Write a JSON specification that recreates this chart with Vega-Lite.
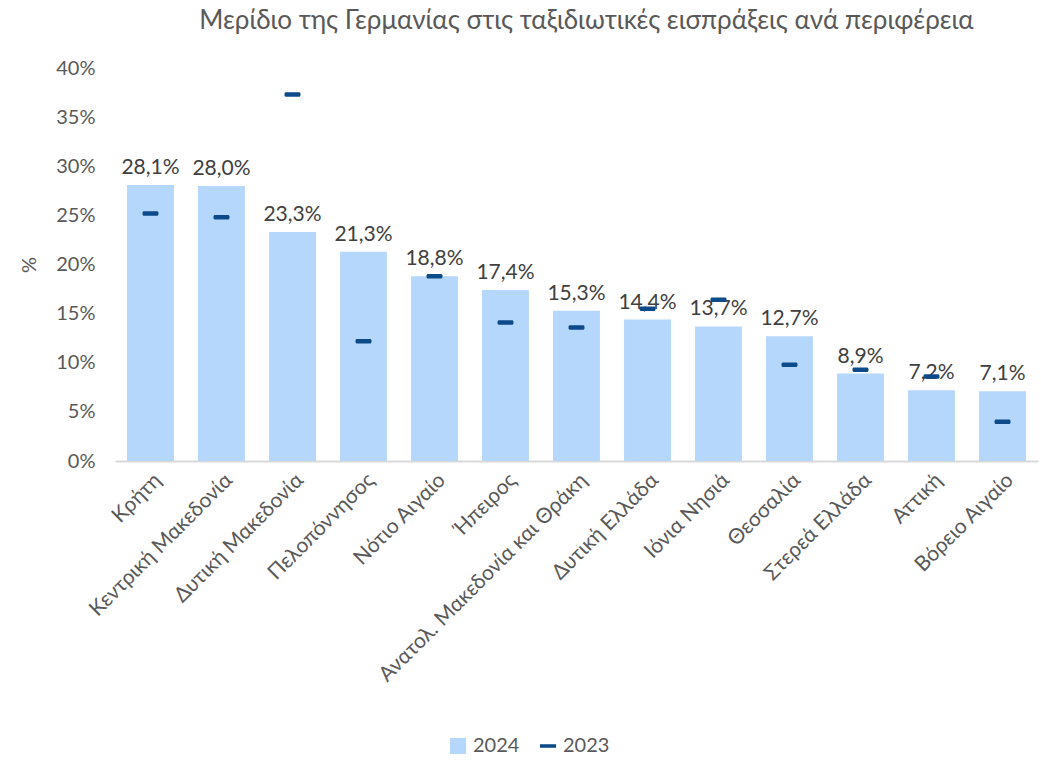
{
  "$schema": "https://vega.github.io/schema/vega-lite/v6.json",
  "autosize": "none",
  "width": 923,
  "height": 393,
  "padding": {"left": 115, "top": 68, "right": 3, "bottom": 299},
  "config": {
    "locale": {"number": {"decimal": ",", "thousands": ".", "grouping": [3], "currency": ["", " €"]}},
    "font": "Lato",
    "view": {"stroke": null},
    "title": {"font": "Lato", "fontSize": 26, "fontWeight": "normal", "color": "#595959"}
  },
  "title": {"text": "Μερίδιο της Γερμανίας στις ταξιδιωτικές εισπράξεις ανά περιφέρεια", "anchor": "middle", "offset": 24, "dx": 10},
  "data": {
    "values": [
      {"region": "Κρήτη", "v2024": 0.281, "v2023": 0.252},
      {"region": "Κεντρική Μακεδονία", "v2024": 0.280, "v2023": 0.248},
      {"region": "Δυτική Μακεδονία", "v2024": 0.233, "v2023": 0.373},
      {"region": "Πελοπόννησος", "v2024": 0.213, "v2023": 0.122},
      {"region": "Νότιο Αιγαίο", "v2024": 0.188, "v2023": 0.188},
      {"region": "Ήπειρος", "v2024": 0.174, "v2023": 0.141},
      {"region": "Ανατολ. Μακεδονία και Θράκη", "v2024": 0.153, "v2023": 0.136},
      {"region": "Δυτική Ελλάδα", "v2024": 0.144, "v2023": 0.155},
      {"region": "Ιόνια Νησιά", "v2024": 0.137, "v2023": 0.164},
      {"region": "Θεσσαλία", "v2024": 0.127, "v2023": 0.098},
      {"region": "Στερεά Ελλάδα", "v2024": 0.089, "v2023": 0.093},
      {"region": "Αττική", "v2024": 0.072, "v2023": 0.086},
      {"region": "Βόρειο Αιγαίο", "v2024": 0.071, "v2023": 0.040}
    ]
  },
  "encoding": {
    "x": {
      "field": "region", "type": "nominal", "sort": null,
      "scale": {"paddingInner": 0.34, "paddingOuter": 0.17},
      "axis": {"title": null, "labelAngle": -45, "labelFontSize": 21, "labelColor": "#595959", "ticks": false, "domainColor": "#d9d9d9", "domainWidth": 2, "labelPadding": 8, "labelLimit": 400}
    }
  },
  "layer": [
    {
      "mark": {"type": "bar", "color": "#b5d7fb"},
      "encoding": {
        "y": {
          "field": "v2024", "type": "quantitative",
          "scale": {"domain": [0, 0.4]},
          "axis": {"title": "%", "titleFontSize": 20, "titleFontWeight": "normal", "titleColor": "#595959", "titlePadding": 16, "format": ".0%", "values": [0, 0.05, 0.1, 0.15, 0.2, 0.25, 0.3, 0.35, 0.4], "labelFontSize": 20, "labelColor": "#595959", "grid": false, "ticks": false, "domain": false, "labelPadding": 20}
        },
        "color": {
          "datum": "2024", "type": "nominal",
          "scale": {"domain": ["2024", "2023"], "range": ["#b5d7fb", "#0c4a8a"]},
          "legend": {
            "title": null, "orient": "none", "legendX": 333, "legendY": 668, "direction": "horizontal",
            "labelFontSize": 20, "labelColor": "#595959", "symbolSize": 260, "columnPadding": 18, "labelOffset": 5,
            "encode": {"symbols": {"update": {"shape": {"signal": "datum.value === '2024' ? 'square' : 'M-1,-0.22H1V0.22H-1Z'"}, "strokeWidth": {"value": 0}, "opacity": {"value": 1}}}}
          }
        }
      }
    },
    {
      "mark": {"type": "text", "dy": -17, "fontSize": 21, "color": "#404040"},
      "encoding": {
        "y": {"field": "v2024", "type": "quantitative"},
        "text": {"field": "v2024", "type": "quantitative", "format": ".1%"}
      }
    },
    {
      "mark": {"type": "tick", "color": "#0c4a8a", "opacity": 1, "size": 16, "thickness": 4.5, "cornerRadius": 1.5},
      "encoding": {
        "y": {"field": "v2023", "type": "quantitative"},
        "color": {"datum": "2023", "type": "nominal"}
      }
    }
  ]
}
